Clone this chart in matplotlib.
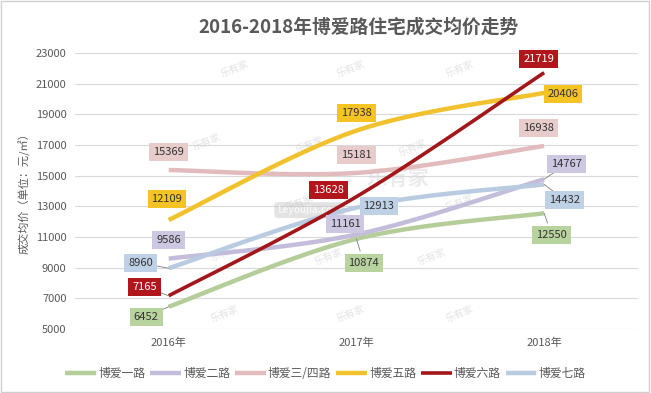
import numpy as np
import matplotlib
matplotlib.use("Agg")
import matplotlib.pyplot as plt
from matplotlib.patches import Rectangle

plt.rcParams['font.family'] = ['Noto Sans CJK SC', 'DejaVu Sans']

# 数据
years = ['2016年', '2017年', '2018年']
roads = ['博爱一路', '博爱二路', '博爱三/四路', '博爱五路', '博爱六路', '博爱七路']
road1 = [6452, 10874, 12550]
road2 = [9586, 11161, 14767]
road34 = [15369, 15181, 16938]
road5 = [12109, 17938, 20406]
road6 = [7165, 13628, 21719]
road7 = [8960, 12913, 14432]
yticks = [5000, 7000, 9000, 11000, 13000, 15000, 17000, 19000, 21000, 23000]

series = [road1, road2, road34, road5, road6, road7]
line_colors = ['#b5cd98', '#c3bcdb', '#e2bcbc', '#f2c12e', '#a3171b', '#b8cbe0']
box_colors = ['#b9d39e', '#cdc7e1', '#e8cccc', '#f6c325', '#b0161b', '#bed1e5']
text_colors = ['#333333'] * 4 + ['white', '#333333']
widths = [3.2, 3.2, 3.2, 3.2, 2.6, 3.2]

# 标签位置 (x偏移, y) —— 手动摆放, 与原图类似
label_pos = [
    [(-0.12, 5783), (1.04, 9304), (2.04, 11130)],
    [(0.0, 10804), (0.94, 11848), (2.12, 15761)],
    [(0.0, 16543), (0.0, 16348), (1.97, 18109)],
    [(-0.01, 13478), (0.0, 19087), (2.1, 20326)],
    [(-0.13, 7739), (0.85, 14065), (1.97, 22609)],
    [(-0.15, 9304), (1.12, 13022), (2.11, 13413)],
]
leader = [
    [True, True, True],
    [False, False, True],
    [False, False, False],
    [False, False, True],
    [True, False, False],
    [True, False, True],
]


def smooth(xs, ys, n=60):
    # catmull-rom 样式的贝塞尔平滑
    p = np.column_stack([xs, ys]).astype(float)
    pts = np.vstack([p[0], p, p[-1]])
    out = []
    for i in range(len(p) - 1):
        p0, p1, p2, p3 = pts[i], pts[i + 1], pts[i + 2], pts[i + 3]
        c1 = p1 + (p2 - p0) / 6
        c2 = p2 - (p3 - p1) / 6
        t = np.linspace(0, 1, n)[:, None]
        seg = (1 - t) ** 3 * p1 + 3 * (1 - t) ** 2 * t * c1 + 3 * (1 - t) * t ** 2 * c2 + t ** 3 * p2
        out.append(seg)
    out = np.vstack(out)
    return out[:, 0], out[:, 1]


fig = plt.figure(figsize=(6.51, 3.93), dpi=100)
ax = fig.add_axes([0.115, 0.163, 0.865, 0.702])

x = np.arange(len(years))
for i, vals in enumerate(series):
    sx, sy = smooth(x, vals)
    ax.plot(sx, sy, color=line_colors[i], lw=widths[i], label=roads[i],
            solid_capstyle='butt', zorder=3 + (1 if i == 4 else 0))

for i, vals in enumerate(series):
    for j, v in enumerate(vals):
        lx, ly = label_pos[i][j]
        lx = j + lx if abs(lx) < 0.5 else lx
        if leader[i][j]:
            ax.annotate('', xy=(j, v), xytext=(lx, ly),
                        arrowprops=dict(arrowstyle='-', color='#7f7f7f', lw=0.6,
                                        shrinkA=9, shrinkB=0), zorder=5)
        ax.text(lx, ly, str(v), ha='center', va='center', fontsize=8,
                color=text_colors[i], zorder=6,
                bbox=dict(boxstyle='square,pad=0.35', fc=box_colors[i], ec='none'))

# 水印
for wx, wy in [(0.35, 22000), (0.97, 22000), (1.55, 22000), (0.2, 17200), (0.75, 17000),
               (1.3, 16800), (0.7, 13200), (1.55, 13200), (0.3, 10000), (0.85, 9700),
               (1.4, 9700), (0.3, 6000), (0.97, 6000), (1.55, 6000)]:
    ax.text(wx, wy, '乐有家', fontsize=7, color='#cfcfcf', alpha=0.6, rotation=22,
            ha='center', va='center', zorder=2)
ax.text(1.22, 14850, '乐有家', fontsize=15, color='#d8d8d8', alpha=0.5,
        ha='center', va='center', fontweight='bold', zorder=2)
ax.text(0.75, 12750, 'Leyoujia.com', fontsize=7, color='white', alpha=0.7,
        ha='center', va='center', fontweight='bold', zorder=2,
        bbox=dict(boxstyle='round,pad=0.3', fc='#c8c8c8', ec='none', alpha=0.5))

ax.set_xlim(-0.5, 2.5)
ax.set_ylim(5000, 23000)
ax.set_xticks(x)
ax.set_xticklabels(years)
ax.set_yticks(yticks)
ax.tick_params(axis='both', length=0, labelsize=8, colors='#595959', pad=6)
ax.grid(axis='y', color='#d9d9d9', lw=0.8)
ax.set_axisbelow(True)
for s in ax.spines.values():
    s.set_visible(False)
ax.set_ylabel('成交均价（单位：元/㎡）', fontsize=8, color='#595959', labelpad=4)

fig.text(0.55, 0.93, '2016-2018年博爱路住宅成交均价走势', ha='center', va='center',
         fontsize=13.5, fontweight='bold', color='#595959')

ax.legend(loc='center', bbox_to_anchor=(0.5, 0.05), bbox_transform=fig.transFigure,
          ncol=6, frameon=False, fontsize=8.5, handlelength=2.6, columnspacing=0.4,
          handletextpad=0.2, labelcolor='#595959')

fig.patches.append(Rectangle((0.002, 0.003), 0.995, 0.994, transform=fig.transFigure,
                             fill=False, ec='#d0d0d0', lw=1))

fig.savefig('out.png', dpi=100, facecolor='white')
